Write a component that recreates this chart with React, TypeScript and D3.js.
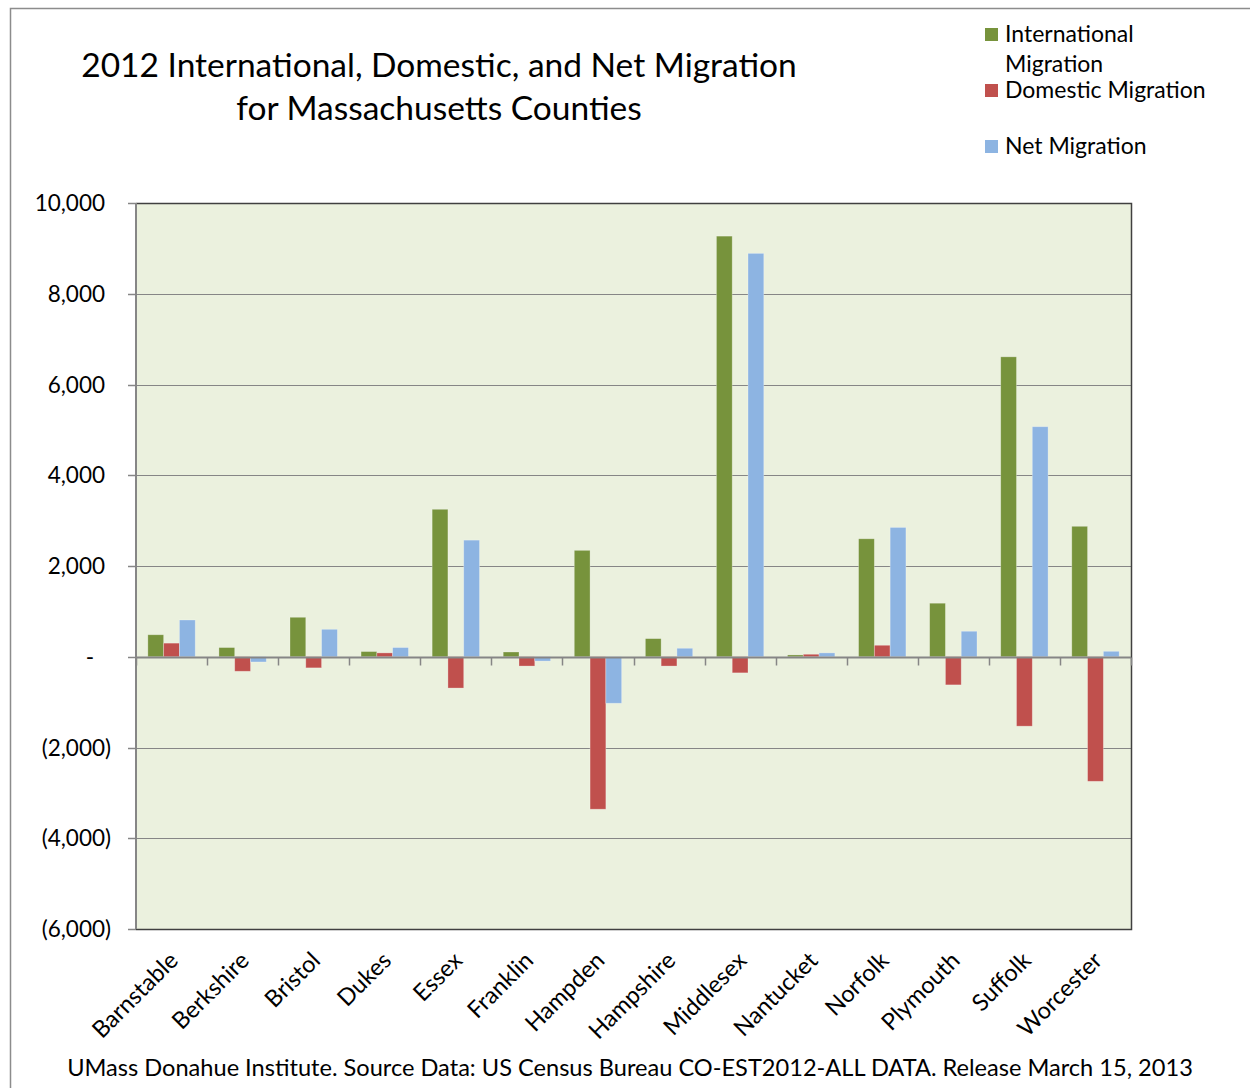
import { useRef, useEffect } from 'react';
import * as d3 from 'd3';

const counties = [
  'Barnstable', 'Berkshire', 'Bristol', 'Dukes', 'Essex', 'Franklin', 'Hampden',
  'Hampshire', 'Middlesex', 'Nantucket', 'Norfolk', 'Plymouth', 'Suffolk', 'Worcester',
];
const international = [485, 203, 870, 115, 3250, 105, 2345, 400, 9270, 40, 2600, 1180, 6610, 2875];
const domestic = [300, -320, -245, 85, -690, -205, -3360, -205, -355, 55, 253, -620, -1530, -2745];
const net = [810, -115, 605, 203, 2570, -95, -1025, 187, 8890, 85, 2850, 562, 5070, 120];
const seriesNames = ['International Migration', 'Domestic Migration', 'Net Migration'];
const seriesColors = ['#77933C', '#C0504D', '#8DB4E2'];
const yTicks = [10000, 8000, 6000, 4000, 2000, 0, -2000, -4000, -6000];

const W = 1250;
const H = 1088;
const PLOT = { left: 136, right: 1131, top: 203, bottom: 929 };
const FONT = 'Lato, "Open Sans", sans-serif';

function fmt(v: number) {
  if (v === 0) return '-';
  const s = d3.format(',')(Math.abs(v));
  return v < 0 ? `(${s})` : s;
}

export default function App() {
  const svgRef = useRef<SVGSVGElement>(null);

  useEffect(() => {
    const svg = d3.select(svgRef.current);
    svg.selectAll('*').remove();

    // outer chart frame
    svg.append('rect').attr('x', 10.5).attr('y', 8.5).attr('width', W + 10).attr('height', H + 10)
      .attr('fill', 'white').attr('stroke', '#8c8c8c').attr('stroke-width', 1.5);

    const x = d3.scaleBand<string>().domain(counties).range([PLOT.left, PLOT.right]);
    const inner = d3.scaleBand<number>().domain([0, 1, 2])
      .range([0, x.bandwidth()]).paddingOuter(0.75).paddingInner(0);
    const y = d3.scaleLinear().domain([-6000, 10000]).range([PLOT.bottom, PLOT.top]);

    // plot area
    svg.append('rect').attr('x', PLOT.left).attr('y', PLOT.top)
      .attr('width', PLOT.right - PLOT.left).attr('height', PLOT.bottom - PLOT.top)
      .attr('fill', '#EBF1DE');

    // gridlines
    svg.append('g').selectAll('line').data(yTicks.filter((t) => t !== 0 && t !== 10000 && t !== -6000))
      .join('line')
      .attr('x1', PLOT.left).attr('x2', PLOT.right)
      .attr('y1', (d) => Math.round(y(d)) + 0.5).attr('y2', (d) => Math.round(y(d)) + 0.5)
      .attr('stroke', '#868686').attr('stroke-width', 1.2);

    // bars
    const data = [international, domestic, net];
    data.forEach((vals, si) => {
      svg.append('g').selectAll('rect').data(vals).join('rect')
        .attr('x', (_d, i) => (x(counties[i]) ?? 0) + (inner(si) ?? 0))
        .attr('width', inner.bandwidth())
        .attr('y', (d) => y(Math.max(0, d)))
        .attr('height', (d) => Math.abs(y(d) - y(0)))
        .attr('fill', seriesColors[si])
        .attr('stroke', 'rgba(255,255,255,0.35)').attr('stroke-width', 0.8);
    });

    // plot border (top/right/bottom)
    svg.append('path')
      .attr('d', `M${PLOT.left},${PLOT.top + 0.5}H${PLOT.right + 0.5}V${PLOT.bottom + 0.5}H${PLOT.left}`)
      .attr('fill', 'none').attr('stroke', '#404040').attr('stroke-width', 1.5);

    // y axis
    const yAxis = svg.append('g');
    yAxis.append('line').attr('x1', PLOT.left).attr('x2', PLOT.left)
      .attr('y1', PLOT.top).attr('y2', PLOT.bottom).attr('stroke', '#868686').attr('stroke-width', 2);
    yAxis.selectAll('line.tick').data(yTicks).join('line').attr('class', 'tick')
      .attr('x1', PLOT.left - 8).attr('x2', PLOT.left)
      .attr('y1', (d) => Math.round(y(d)) + 0.5).attr('y2', (d) => Math.round(y(d)) + 0.5)
      .attr('stroke', '#868686').attr('stroke-width', 1.5);
    yAxis.selectAll('text').data(yTicks).join('text')
      .attr('x', (d) => (d < 0 ? 111 : d === 0 ? 94 : 105))
      .attr('y', (d) => y(d) + 8)
      .attr('text-anchor', 'end')
      .attr('font-family', FONT).attr('font-size', 22.5).attr('fill', '#000')
      .text((d) => fmt(d));

    // x axis at zero
    const xAxis = svg.append('g');
    const y0 = Math.round(y(0)) + 0.5;
    xAxis.append('line').attr('x1', PLOT.left).attr('x2', PLOT.right)
      .attr('y1', y0).attr('y2', y0).attr('stroke', '#868686').attr('stroke-width', 2);
    const bounds = counties.map((c) => x(c) ?? 0).concat([PLOT.right]);
    xAxis.selectAll('line.tick').data(bounds).join('line').attr('class', 'tick')
      .attr('x1', (d) => Math.round(d) + 0.5).attr('x2', (d) => Math.round(d) + 0.5)
      .attr('y1', y0).attr('y2', y0 + 8)
      .attr('stroke', '#868686').attr('stroke-width', 1.5);

    // category labels
    svg.append('g').selectAll('text').data(counties).join('text')
      .attr('transform', (d) => `translate(${(x(d) ?? 0) + x.bandwidth() / 2 + 8},${PLOT.bottom + 33}) rotate(-45)`)
      .attr('text-anchor', 'end')
      .attr('font-family', FONT).attr('font-size', 23.5).attr('fill', '#000')
      .text((d) => d);

    // title
    const title = svg.append('text').attr('text-anchor', 'middle')
      .attr('font-family', FONT).attr('font-size', 33.5).attr('fill', '#000');
    title.append('tspan').attr('x', 439).attr('y', 77).text('2012 International, Domestic, and Net Migration');
    title.append('tspan').attr('x', 439).attr('y', 120).text('for Massachusetts Counties');

    // legend
    const legendRows = [
      { lines: ['International', 'Migration'], y: 42 },
      { lines: ['Domestic Migration'], y: 98 },
      { lines: ['Net Migration'], y: 154 },
    ];
    legendRows.forEach((r, i) => {
      svg.append('rect').attr('x', 985).attr('y', r.y - 14).attr('width', 13).attr('height', 13)
        .attr('fill', seriesColors[i]);
      const t = svg.append('text').attr('font-family', FONT).attr('font-size', 23).attr('fill', '#000')
        .attr('aria-label', seriesNames[i]);
      r.lines.forEach((ln, j) => {
        t.append('tspan').attr('x', 1005).attr('y', r.y + j * 30).text(ln);
      });
    });

    // footer
    svg.append('text').attr('x', 630).attr('y', 1076).attr('text-anchor', 'middle')
      .attr('font-family', FONT).attr('font-size', 23.6).attr('fill', '#000')
      .text('UMass Donahue Institute. Source Data: US Census Bureau CO-EST2012-ALL DATA. Release March 15, 2013');
  }, []);

  return (
    <div style={{ position: 'absolute', left: 0, top: 0, width: W, height: H, overflow: 'hidden' }}>
      <svg ref={svgRef} width={W} height={H} style={{ display: 'block' }} />
    </div>
  );
}
